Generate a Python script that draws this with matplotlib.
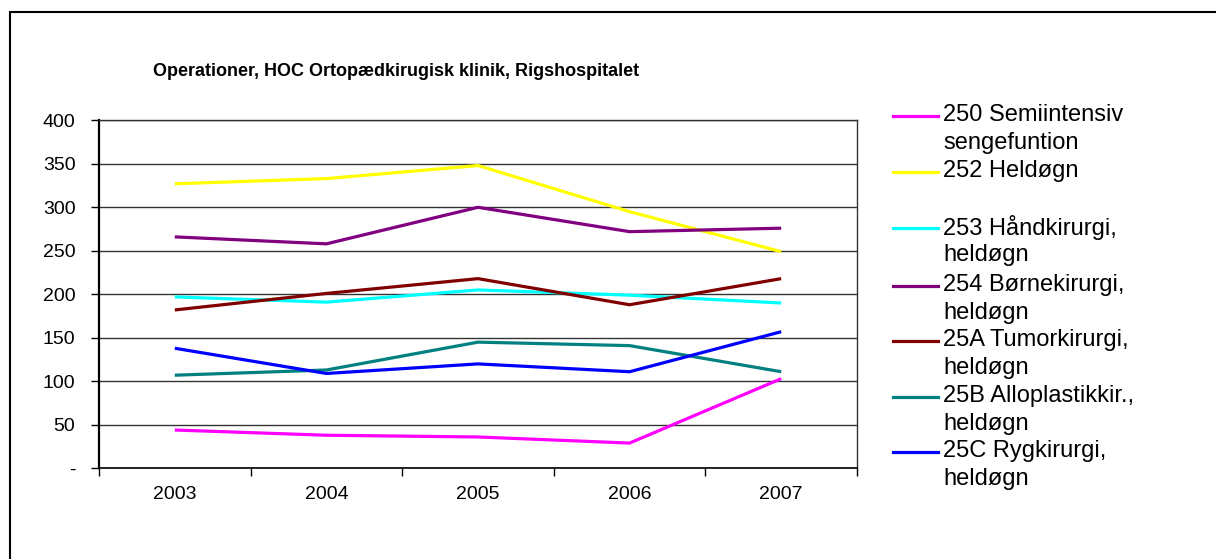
import matplotlib
matplotlib.use("Agg")
import matplotlib.pyplot as plt
from matplotlib.lines import Line2D
from matplotlib.patches import Rectangle

plt.rcParams['font.family'] = ['Liberation Sans', 'DejaVu Sans']

years = ['2003', '2004', '2005', '2006', '2007']

semiintensiv = [44, 38, 36, 29, 103]
heldoegn = [327, 333, 348, 295, 249]
haandkirurgi = [197, 191, 205, 199, 190]
boernekirurgi = [266, 258, 300, 272, 276]
tumorkirurgi = [182, 201, 218, 188, 218]
alloplastik = [107, 113, 145, 141, 111]
rygkirurgi = [138, 109, 120, 111, 157]

series = [
    ('250 Semiintensiv\nsengefuntion', semiintensiv, '#FF00FF'),
    ('252 Heldøgn', heldoegn, '#FFFF00'),
    ('253 Håndkirurgi,\nheldøgn', haandkirurgi, '#00FFFF'),
    ('254 Børnekirurgi,\nheldøgn', boernekirurgi, '#800080'),
    ('25A Tumorkirurgi,\nheldøgn', tumorkirurgi, '#800000'),
    ('25B Alloplastikkir.,\nheldøgn', alloplastik, '#008080'),
    ('25C Rygkirurgi,\nheldøgn', rygkirurgi, '#0000FF'),
]

W, H = 1216, 559
fig = plt.figure(figsize=(W / 100, H / 100), dpi=100)

# outer chart border (only top and left edges fall inside the image)
fig.patches.append(Rectangle((10 / W, -0.1), 1.2, 1 - 12 / H + 0.1,
                             transform=fig.transFigure, fill=False,
                             edgecolor='black', linewidth=1.5))

ax = fig.add_axes([99 / W, (H - 468.3) / H, 758 / W, 348 / H])

x = list(range(len(years)))
for label, vals, color in series:
    ax.plot(x, vals, color=color, linewidth=2.3, solid_capstyle='butt')

ax.set_xlim(-0.5, len(years) - 0.5)
ax.set_ylim(0, 400)
ax.set_yticks(range(0, 401, 50))
ax.set_yticklabels(['-'] + [str(v) for v in range(50, 401, 50)])
ax.yaxis.grid(True, color='#333333', linewidth=1.0)
ax.set_axisbelow(True)

ax.set_xticks([i - 0.5 for i in range(len(years) + 1)])
ax.set_xticklabels([])
ax.set_xticks(x, minor=True)
ax.set_xticklabels(years, minor=True)
ax.tick_params(axis='x', which='minor', length=0, pad=13, labelsize=14)
ax.tick_params(axis='x', which='major', direction='out', length=6, width=1)
ax.tick_params(axis='y', direction='out', length=6, width=1, pad=11, labelsize=14)

for side in ['top', 'right']:
    ax.spines[side].set_color('#333333')
    ax.spines[side].set_linewidth(1.0)
ax.spines['left'].set_linewidth(1.6)
ax.spines['bottom'].set_linewidth(1.2)

fig.text(396 / W, 1 - 71 / H, 'Operationer, HOC Ortopædkirugisk klinik, Rigshospitalet',
         ha='center', va='center', fontsize=13, fontweight='bold')

# legend: one handle per entry, label lines stacked 28 px apart
row_tops = [116, 172, 228, 286, 341, 397, 452]
for (label, vals, color), yy in zip(series, row_tops):
    fig.lines.append(Line2D([893 / W, 938 / W], [1 - yy / H, 1 - yy / H],
                            transform=fig.transFigure, color=color, linewidth=2.3))
    for k, line in enumerate(label.split('\n')):
        fig.text(943 / W, 1 - (yy - 1 + 28 * k) / H, line, ha='left', va='center',
                 fontsize=17)

fig.savefig('out.png', dpi=100)
